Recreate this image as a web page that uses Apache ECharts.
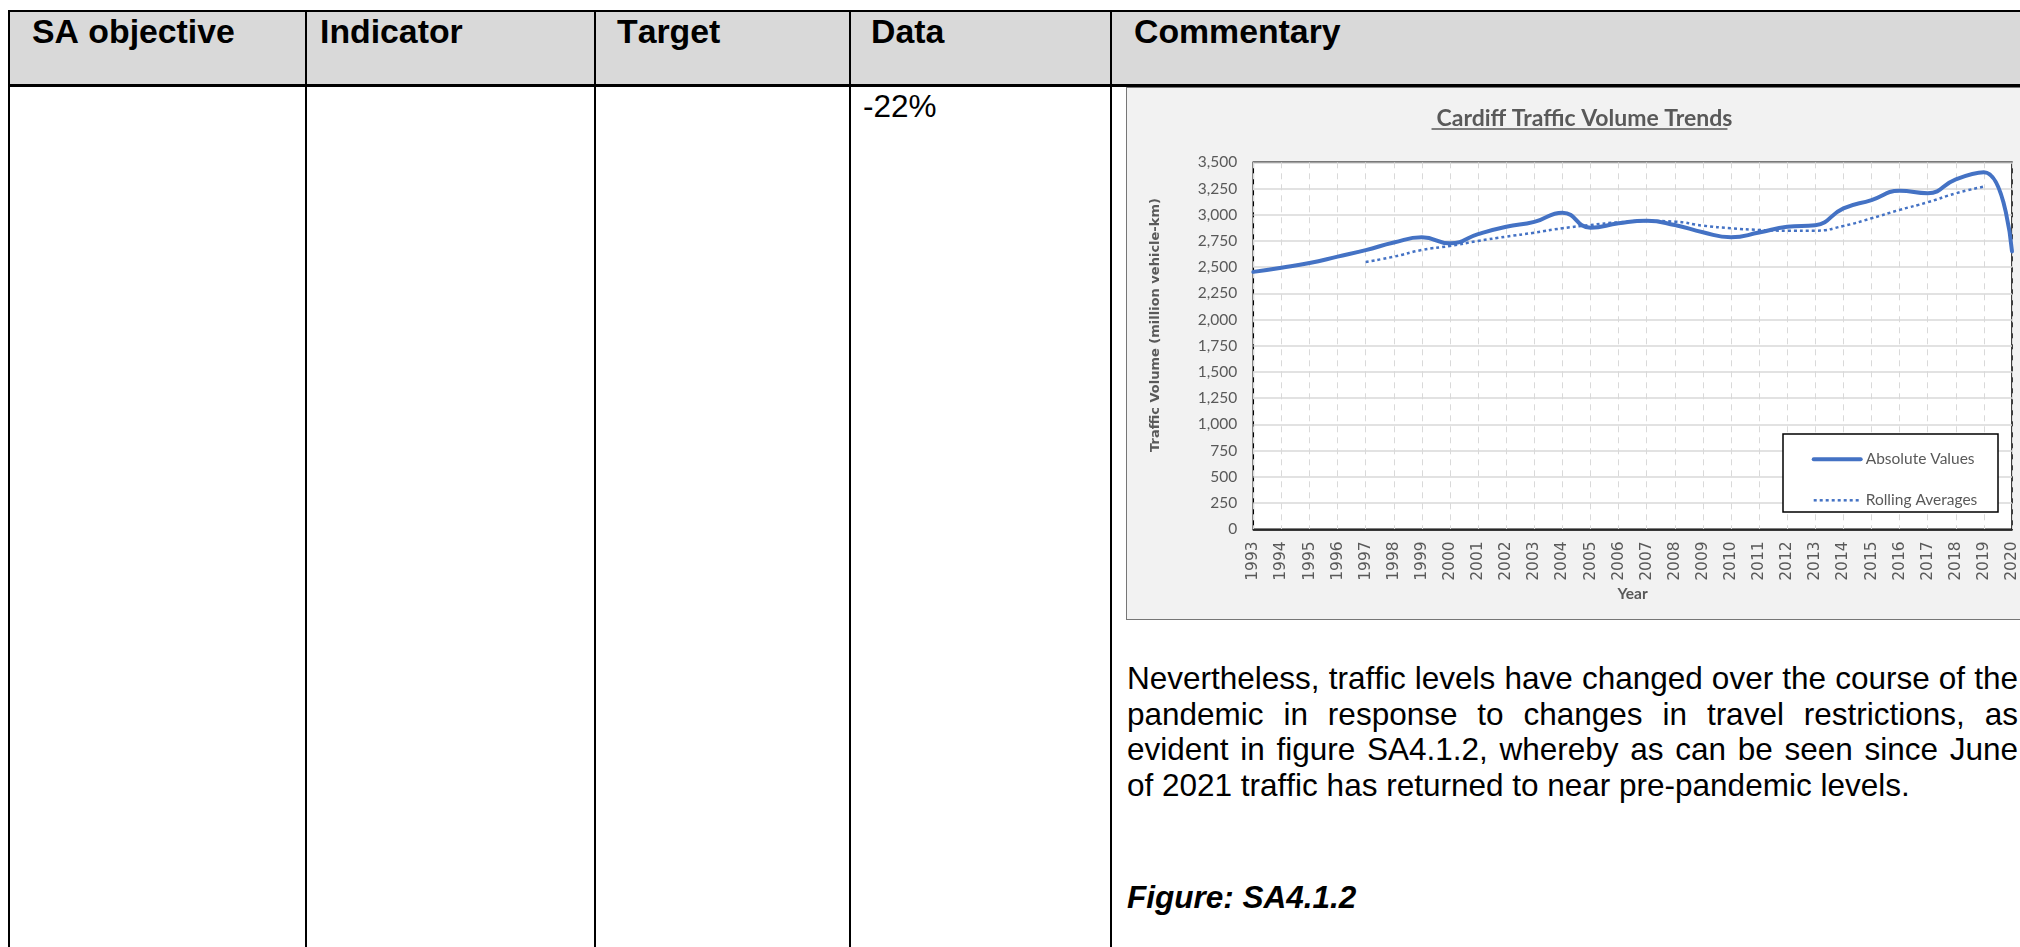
<!DOCTYPE html>
<html>
<head>
<meta charset="utf-8">
<script src="https://cdn.jsdelivr.net/npm/echarts@6/dist/echarts.min.js"></script>
<style>
  html, body { margin: 0; padding: 0; background: #ffffff; }
  body { width: 2020px; height: 947px; overflow: hidden; position: relative; font-kerning: none; }
  .ln { position: absolute; background: #000; }
  .hbg { position: absolute; background: #d9d9d9; }
  .hd { position: absolute; font-family: "Liberation Sans", Arial, sans-serif; font-weight: bold; font-size: 33.8px; line-height: 33.8px; color: #000; white-space: nowrap; }
  .tx { position: absolute; font-family: "Liberation Sans", Arial, sans-serif; font-size: 31.5px; color: #000; white-space: nowrap; }
  .pl { position: absolute; left: 1127px; width: 891px; font-family: "Liberation Sans", Arial, sans-serif; font-size: 31.5px; line-height: 35.5px; color: #000; white-space: nowrap; }
  .just { text-align: justify; text-align-last: justify; }
  #chartBox { position: absolute; left: 1126px; top: 87px; width: 920px; height: 533px; box-sizing: border-box; border: 1px solid #767676; background: #f2f2f2; }
  #chart { position: absolute; left: 0; top: 0; width: 918px; height: 531px; }
</style>
</head>
<body>
<!-- header background -->
<div class="hbg" style="left:10px; top:12px; width:2010px; height:73px;"></div>
<!-- table borders -->
<div class="ln" style="left:8px; top:10px; width:2012px; height:2px;"></div>
<div class="ln" style="left:8px; top:84px; width:2012px; height:3px;"></div>
<div class="ln" style="left:8px; top:10px; width:2px; height:937px;"></div>
<div class="ln" style="left:305px; top:10px; width:2px; height:937px;"></div>
<div class="ln" style="left:594px; top:10px; width:2px; height:937px;"></div>
<div class="ln" style="left:849px; top:10px; width:2px; height:937px;"></div>
<div class="ln" style="left:1110px; top:10px; width:2px; height:937px;"></div>

<!-- header texts -->
<div class="hd" style="left:32px; top:14.5px;">SA objective</div>
<div class="hd" style="left:320px; top:14.5px;">Indicator</div>
<div class="hd" style="left:617px; top:14.5px;">Target</div>
<div class="hd" style="left:871px; top:14.5px;">Data</div>
<div class="hd" style="left:1134px; top:14.5px;">Commentary</div>

<div class="tx" style="left:863px; top:91px; line-height:31.5px;">-22%</div>

<div id="chartBox"><div id="chart"></div></div>

<div class="pl just" style="top:661px;">Nevertheless, traffic levels have changed over the course of the</div>
<div class="pl just" style="top:696.5px;">pandemic in response to changes in travel restrictions, as</div>
<div class="pl just" style="top:732px;">evident in figure SA4.1.2, whereby as can be seen since June</div>
<div class="pl" style="top:767.5px;">of 2021 traffic has returned to near pre-pandemic levels.</div>
<div class="pl" style="top:880px; font-weight:bold; font-style:italic;">Figure: SA4.1.2</div>

<script>
// ---- data ----
var years = ['1993','1994','1995','1996','1997','1998','1999','2000','2001','2002',
             '2003','2004','2005','2006','2007','2008','2009','2010','2011','2012',
             '2013','2014','2015','2016','2017','2018','2019','2020'];
var absoluteValues = [2455, 2495, 2540, 2600, 2662, 2735, 2785, 2727, 2815, 2885,
                      2932, 3020, 2877, 2918, 2942, 2902, 2833, 2785, 2830, 2885,
                      2900, 3060, 3140, 3228, 3205, 3338, 3405, 2650];
var rollingAverages = [null, null, null, null, 2550, 2600, 2664, 2702, 2750, 2791,
                       2829, 2871, 2902, 2928, 2941, 2934, 2896, 2871, 2855, 2848,
                       2848, 2893, 2966, 3046, 3119, 3204, 3268, null];
var seriesNames = ['Absolute Values', 'Rolling Averages'];
var chartTitle = 'Cardiff Traffic Volume Trends';
var yAxisTitle = 'Traffic Volume (million vehicle-km)';
var xAxisTitle = 'Year';

var blue = '#4472c4';
var grey = '#595959';

// measure title for underline
var cv = document.createElement('canvas').getContext('2d');
var titleSize = 23;
cv.font = 'bold ' + titleSize + 'px Lato';
var titleW = cv.measureText(chartTitle).width;
var titleCx = 452.5;

var chart = echarts.init(document.getElementById('chart'), null, { renderer: 'canvas' });
chart.setOption({
  backgroundColor: 'transparent',
  animation: false,
  title: {
    text: chartTitle,
    left: titleCx,
    top: 14,
    textAlign: 'center',
    textStyle: { fontFamily: 'Lato', fontWeight: 'bold', fontSize: titleSize, color: grey }
  },
  grid: {
    left: 126.3, top: 74.3, width: 758.7, height: 367,
    containLabel: false, outerBoundsMode: 'none',
    show: true, backgroundColor: '#ffffff', borderColor: '#000000', borderWidth: 1.5
  },
  xAxis: {
    type: 'category',
    data: years,
    boundaryGap: false,
    name: xAxisTitle,
    nameLocation: 'middle',
    nameGap: 57,
    nameMoveOverlap: false,
    nameTextStyle: { fontFamily: 'Lato', fontWeight: 'bold', fontSize: 15.5, color: grey },
    axisLine: { show: true, lineStyle: { color: '#000', width: 1.5 } },
    axisTick: { show: false },
    axisLabel: { show: true, interval: 0, rotate: 90, margin: 12, color: grey,
                 fontFamily: 'DejaVu Sans', fontSize: 15.5, hideOverlap: false },
    splitLine: { show: true, interval: 0, lineStyle: { color: '#d9d9d9', width: 1, type: [6, 5] } }
  },
  yAxis: {
    type: 'value',
    min: 0, max: 3500, interval: 250,
    axisLine: { show: false },
    axisTick: { show: false },
    axisLabel: { show: true, margin: 16, color: grey, fontFamily: 'Lato', fontSize: 15.5,
                 formatter: function (v) { return v.toLocaleString('en-US'); } },
    splitLine: { show: true, lineStyle: { color: '#d9d9d9', width: 1.5, type: 'solid' } }
  },
  legend: {
    orient: 'vertical',
    left: 679.7,
    top: 358.3,
    itemWidth: 47,
    itemHeight: 14,
    itemGap: 25,
    z: 5,
    textStyle: { fontFamily: 'Lato', fontSize: 15.5, color: grey },
    data: [
      { name: seriesNames[0], itemStyle: { opacity: 0 },
        lineStyle: { width: 4, color: blue, type: 'solid', opacity: 1 } },
      { name: seriesNames[1], itemStyle: { opacity: 0 },
        lineStyle: { width: 2.5, color: blue, type: [3, 3], opacity: 1 } }
    ]
  },
  graphic: [
    { type: 'rect', z: 3, shape: { x: 656, y: 346, width: 215, height: 78 },
      style: { fill: '#ffffff', stroke: '#000000', lineWidth: 1.5 } },
    { type: 'line', z: 3, shape: { x1: titleCx - titleW / 2, y1: 41, x2: titleCx + titleW / 2, y2: 41 },
      style: { stroke: grey, lineWidth: 1.5 } },
    { type: 'text', z: 3, x: 28.5, y: 237, rotation: Math.PI / 2,
      style: { text: yAxisTitle, fill: grey, font: 'bold 13px "DejaVu Sans"',
               textAlign: 'center', textVerticalAlign: 'middle' } }
  ],
  series: [
    { name: seriesNames[0], type: 'line', data: absoluteValues, smooth: true,
      symbol: 'none', z: 3,
      lineStyle: { color: blue, width: 4, cap: 'round' }, itemStyle: { color: blue } },
    { name: seriesNames[1], type: 'line', data: rollingAverages, smooth: true,
      symbol: 'none', z: 3, connectNulls: false,
      lineStyle: { color: blue, width: 2.5, type: [3, 3] }, itemStyle: { color: blue } }
  ]
});
</script>
</body>
</html>
